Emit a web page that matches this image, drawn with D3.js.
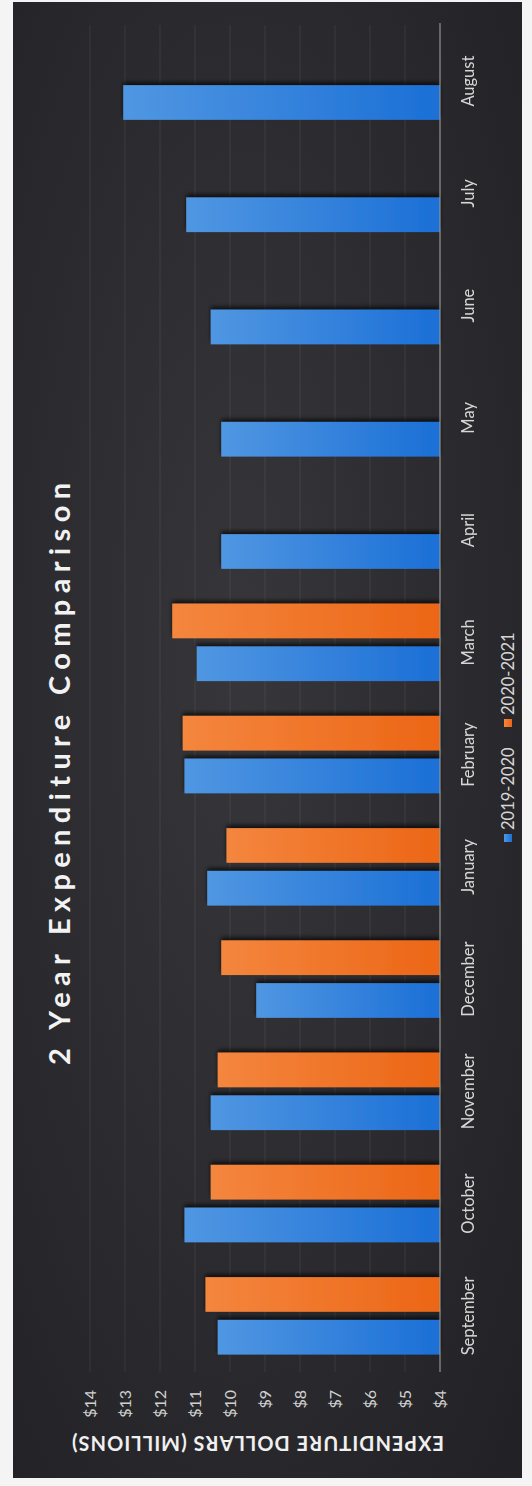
<!DOCTYPE html>
<html>
<head>
<meta charset="utf-8">
<script src="https://cdn.jsdelivr.net/npm/d3@7"></script>
<style>
  html, body { margin: 0; padding: 0; background: #f4f4f4; }
  svg { display: block; }
  text { font-family: Lato, "Open Sans", sans-serif; }
</style>
</head>
<body>
<svg id="chart" width="532" height="1486"></svg>
<script>
// months along the category axis (Sept -> Aug)
const months = ["September", "October", "November", "December", "January", "February",
                "March", "April", "May", "June", "July", "August"];
const seriesNames = ["2019-2020", "2020-2021"];
const values1920 = [10.35, 11.3, 10.55, 9.25, 10.65, 11.3, 10.95, 10.25, 10.25, 10.55, 11.25, 13.05];
const values2021 = [10.7, 10.55, 10.35, 10.25, 10.1, 11.35, 11.65, null, null, null, null, null];
const tickValues = [4, 5, 6, 7, 8, 9, 10, 11, 12, 13, 14];
const chartTitle = "2 Year Expenditure Comparison";
const axisTitle = "EXPENDITURE DOLLARS (MILLIONS)";

const W = 532, H = 1486;
const svg = d3.select("#chart");

// defs: gradients and bar shadow
const defs = svg.append("defs");
const grads = [["grad0", "#5097e2", "#1b6fd6"], ["grad1", "#f4863e", "#ec6616"]];
grads.forEach(g => {
    const lg = defs.append("linearGradient").attr("id", g[0])
        .attr("x1", 0).attr("y1", 0).attr("x2", 0).attr("y2", 1);
    lg.append("stop").attr("offset", "0%").attr("stop-color", g[1]);
    lg.append("stop").attr("offset", "100%").attr("stop-color", g[2]);
});
const bgGrad = defs.append("radialGradient").attr("id", "bg")
    .attr("cx", "45%").attr("cy", "45%").attr("r", "75%");
bgGrad.append("stop").attr("offset", "0%").attr("stop-color", "#37373b");
bgGrad.append("stop").attr("offset", "100%").attr("stop-color", "#222226");
defs.append("filter").attr("id", "shadow")
    .attr("x", "-20%").attr("y", "-20%").attr("width", "140%").attr("height", "140%")
    .append("feDropShadow").attr("dx", 3).attr("dy", 0).attr("stdDeviation", 2)
    .attr("flood-color", "#000").attr("flood-opacity", 0.7);

// dark panel
svg.append("rect").attr("x", 13).attr("y", 2).attr("width", 509).attr("height", 1476)
    .attr("fill", "url(#bg)");

// the chart is drawn upright, then turned a quarter turn counter-clockwise
const g = svg.append("g").attr("transform", `translate(0,${H}) rotate(-90)`);

const x = d3.scaleBand().domain(months).range([114, 1461])
    .paddingInner(0.31).paddingOuter(0.155);
const xs = d3.scaleBand().domain(seriesNames).range([0, x.bandwidth()]).paddingInner(0.19);
const y = d3.scaleLinear().domain([4, 14]).range([440, 90]);
const color = d3.scaleOrdinal().domain(seriesNames).range(["url(#grad0)", "url(#grad1)"]);

// gridlines
g.append("g").selectAll("line").data(tickValues).join("line")
    .attr("x1", 114).attr("x2", 1461)
    .attr("y1", d => y(d)).attr("y2", d => y(d))
    .attr("stroke", "#ffffff").attr("stroke-opacity", 0.08).attr("stroke-width", 1);

// bars
const rows = months.map((m, i) => ({month: m, vals: [
    {s: seriesNames[0], v: values1920[i]},
    {s: seriesNames[1], v: values2021[i]}
].filter(d => d.v != null)}));

g.append("g").attr("filter", "url(#shadow)")
    .selectAll("g").data(rows).join("g")
    .attr("transform", d => `translate(${x(d.month)},0)`)
    .selectAll("rect").data(d => d.vals).join("rect")
    .attr("x", d => xs(d.s))
    .attr("width", xs.bandwidth())
    .attr("y", d => y(d.v))
    .attr("height", d => y(4) - y(d.v))
    .attr("fill", d => color(d.s));

// category axis
const xAxis = g.append("g").attr("transform", `translate(0,${y(4)})`)
    .call(d3.axisBottom(x).tickSize(0).tickPadding(0));
xAxis.select(".domain").attr("stroke", "#a0a0a0").attr("stroke-width", 1.2)
    .attr("d", "M114,0H1463");
xAxis.selectAll("text").attr("y", 34).attr("dy", 0)
    .attr("fill", "#d6d6d6").attr("font-size", 16.5);

// value axis labels
const yAxis = g.append("g").attr("transform", "translate(96,0)")
    .call(d3.axisLeft(y).tickValues(tickValues).tickSize(0).tickPadding(0)
        .tickFormat(d => "$" + d));
yAxis.select(".domain").remove();
yAxis.selectAll("text").attr("fill", "#d0d0d0").attr("font-size", 16);

// titles
g.append("text").attr("x", 712).attr("y", 70)
    .attr("text-anchor", "middle").attr("fill", "#f2f2f2")
    .attr("font-size", 29).attr("font-weight", 700)
    .attr("textLength", 582).attr("lengthAdjust", "spacing")
    .text(chartTitle);

g.append("text").attr("transform", "translate(50,258) rotate(-90)")
    .attr("text-anchor", "middle").attr("fill", "#f0f0f0")
    .attr("font-size", 20).attr("font-weight", 700)
    .attr("textLength", 372).attr("lengthAdjust", "spacing")
    .text(axisTitle);

// legend
const legendPos = [648, 763];
const legend = g.append("g").selectAll("g").data(seriesNames).join("g")
    .attr("transform", (d, i) => `translate(${legendPos[i]},508)`);
legend.append("rect").attr("x", -4).attr("y", -4).attr("width", 8).attr("height", 8)
    .attr("fill", d => color(d));
legend.append("text").attr("x", 8).attr("y", 6)
    .attr("fill", "#d6d6d6").attr("font-size", 16.5)
    .text(d => d);
</script>
</body>
</html>
